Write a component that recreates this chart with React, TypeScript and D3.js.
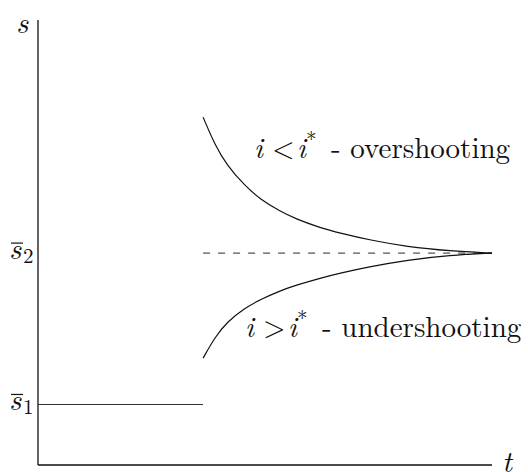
import React from "react";
import * as d3 from "d3";

const W = 528;
const H = 472;

const tDomain = [0, 11];
const sDomain = [0, 14.7];

const tJump = 4;
const tEnd = 11;
const s1 = 2;
const s2 = 7;

const tPath = [4, 4.29, 4.58, 5.0, 5.41, 5.86, 6.23, 6.83, 7.32, 8.04, 8.94, 9.98, 11];
const sUpper = [11.49, 10.56, 9.9, 9.24, 8.75, 8.39, 8.14, 7.84, 7.66, 7.43, 7.21, 7.07, 7.0];
const sLower = [3.53, 4.23, 4.72, 5.18, 5.48, 5.75, 5.93, 6.17, 6.34, 6.55, 6.77, 6.93, 7.0];

const overRel = "<";
const underRel = ">";
const overWord = "- overshooting";
const underWord = "- undershooting";

const FONT = "'Latin Modern Roman', 'CMU Serif', 'Liberation Serif', serif";
const FS = 29;

export default function App() {
  const x = d3.scaleLinear().domain(tDomain).range([38, 492]);
  const y = d3.scaleLinear().domain(sDomain).range([465, 20]);

  const line = d3
    .line<[number, number]>()
    .x((d) => x(d[0]))
    .y((d) => y(d[1]))
    .curve(d3.curveBasis);

  const upper = line(tPath.map((t, i) => [t, sUpper[i]]) as [number, number][]);
  const lower = line(tPath.map((t, i) => [t, sLower[i]]) as [number, number][]);

  const x0 = x(0);
  const y0 = y(0);

  const mathLabel = (rel: string, word: string, lx: number, ly: number) => (
    <g fontFamily={FONT} fill="#111">
      <text x={lx} y={ly} fontSize={FS} fontStyle="italic">i</text>
      <text x={lx + 18} y={ly} fontSize={FS}>{rel}</text>
      <text x={lx + 43} y={ly} fontSize={FS} fontStyle="italic">i</text>
      <text x={lx + 52} y={ly - 11} fontSize={21}>*</text>
      <text x={lx + 77} y={ly} fontSize={FS}>{word}</text>
    </g>
  );

  const barLabel = (sub: string, yy: number) => (
    <g fontFamily={FONT} fill="#111">
      <line x1={11} x2={23} y1={yy - 10} y2={yy - 10} stroke="#111" strokeWidth={1.2} />
      <text x={9} y={yy + 6} fontSize={30} fontStyle="italic">s</text>
      <text x={23} y={yy + 10} fontSize={21}>{sub}</text>
    </g>
  );

  return (
    <svg
      width={W}
      height={H}
      style={{ position: "absolute", left: 0, top: 0, background: "#fff" }}
    >
      <rect width={W} height={H} fill="#fff" />
      <line x1={x0} x2={x0} y1={y(sDomain[1])} y2={y0} stroke="#111" strokeWidth={1.3} />
      <line x1={x0} x2={x(tDomain[1])} y1={y0} y2={y0} stroke="#111" strokeWidth={1.3} />

      <line x1={x0} x2={x(tJump)} y1={y(s1)} y2={y(s1)} stroke="#333" strokeWidth={1.1} />

      <line
        x1={x(tJump)}
        x2={x(tEnd)}
        y1={y(s2)}
        y2={y(s2)}
        stroke="#555"
        strokeWidth={1.1}
        strokeDasharray="7 8"
      />

      <path d={upper || ""} fill="none" stroke="#111" strokeWidth={1.2} />
      <path d={lower || ""} fill="none" stroke="#111" strokeWidth={1.2} />

      <text x={16} y={33} fontFamily={FONT} fontSize={30} fontStyle="italic" fill="#111">
        s
      </text>
      <text x={502} y={472} fontFamily={FONT} fontSize={30} fontStyle="italic" fill="#111">
        t
      </text>
      {barLabel("2", y(s2))}
      {barLabel("1", y(s1))}

      {mathLabel(overRel, overWord, 254, 158)}
      {mathLabel(underRel, underWord, 245, 337)}
    </svg>
  );
}
